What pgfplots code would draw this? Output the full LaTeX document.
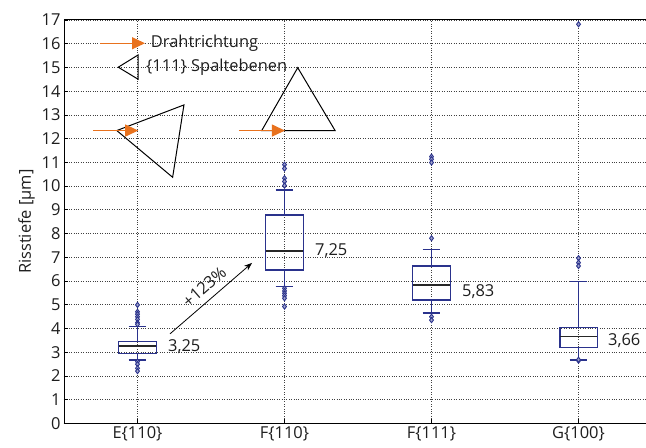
\documentclass[border=0pt]{standalone}
\usepackage{fontspec}
\setmainfont{Open Sans}
\usepackage{pgfplots}
\pgfplotsset{compat=1.18}
\usepgfplotslibrary{statistics}
\usetikzlibrary{arrows.meta}
\definecolor{navy}{RGB}{42,50,140}
\definecolor{orng}{RGB}{232,114,30}
\definecolor{txt}{RGB}{30,30,30}
\begin{document}
\begin{tikzpicture}[font=\fontsize{16.5}{19}\selectfont]
\begin{axis}[name=ax, scale only axis, width=582bp, height=403.3bp,
  xmin=0.5, xmax=4.459, ymin=0, ymax=17,
  axis x line*=bottom, axis y line*=left,
  xtick={1,2,3,4}, xticklabels={E\{110\},F\{110\},F\{111\},G\{100\}},
  ytick={0,1,...,17},
  tick align=inside, major tick length=4bp,
  grid=major, major grid style={dotted, black!75, line width=0.6pt},
  /pgf/number format/assume math mode=true,
  ylabel={Risstiefe [µm]},
  axis line style={line width=1pt, black},
  tick style={black, line width=0.6pt},
  ticklabel style={text=txt}, label style={text=txt},
  clip=false,
  boxplot/draw direction=y,
  boxplot/box extend=0.254, boxplot/whisker extend=0.12,
  boxplot/every box/.style={draw=navy, line width=1.3pt},
  boxplot/every whisker/.style={navy, line width=1.3pt},
  boxplot/every median/.style={black!85, line width=1.3pt},
]
\draw[line width=1pt] (rel axis cs:0,1) -- (rel axis cs:1,1);

\pgfplotsset{myb/.style={navy, line width=1.3pt, mark=diamond*, mark size=2.6bp,
  mark options={fill=navy!45, line width=0.9pt, solid}}}

\addplot[myb, boxplot prepared={draw position=1, median=3.26, lower quartile=2.93, upper quartile=3.44,
  lower whisker=2.67, upper whisker=4.07}]
  table[row sep=\\, y index=0] {y\\ 4.99\\ 4.70\\ 4.60\\ 4.49\\ 4.38\\ 4.24\\ 4.17\\ 2.60\\ 2.49\\ 2.32\\ 2.20\\};

\addplot[myb, boxplot prepared={draw position=2, median=7.26, lower quartile=6.46, upper quartile=8.78,
  lower whisker=5.76, upper whisker=9.84}]
  table[row sep=\\, y index=0] {y\\ 10.90\\ 10.74\\ 10.33\\ 10.19\\ 10.02\\ 5.69\\ 5.58\\ 5.48\\ 5.38\\ 5.27\\ 4.92\\};

\addplot[myb, boxplot prepared={draw position=3, median=5.83, lower quartile=5.20, upper quartile=6.63,
  lower whisker=4.65, upper whisker=7.33}]
  table[row sep=\\, y index=0] {y\\ 11.24\\ 11.13\\ 10.99\\ 7.80\\ 4.49\\ 4.35\\};

\addplot[myb, boxplot prepared={draw position=4, median=3.65, lower quartile=3.19, upper quartile=4.05,
  lower whisker=2.67, upper whisker=5.97}]
  table[row sep=\\, y index=0] {y\\ 16.82\\ 6.96\\ 6.77\\ 6.63\\ 2.64\\ 2.68\\};

% value labels
\node[anchor=west, inner sep=0, text=txt] at (axis cs:1.207,3.25) {3,25};
\node[anchor=west, inner sep=0, text=txt] at (axis cs:2.207,7.28) {7,25};
\node[anchor=west, inner sep=0, text=txt] at (axis cs:3.207,5.56) {5,83};
\node[anchor=west, inner sep=0, text=txt] at (axis cs:4.200,3.50) {3,66};

% increase arrow
\draw[-{Stealth[length=8bp,width=6bp]}, line width=0.8pt, black] (axis cs:1.221,3.77) -- (axis cs:1.779,6.76);
\node[rotate=41, inner sep=0, text=txt] at (axis cs:1.455,5.75) {+123\%};

% legend-like annotations
\draw[orng, line width=1.2pt, -{Triangle[length=13bp,width=12bp]}] (axis cs:0.745,16.02) -- (axis cs:1.051,16.02);
\node[anchor=west, inner sep=0, text=txt] at (axis cs:1.090,16.02) {Drahtrichtung};
\draw[black, line width=1pt] (axis cs:0.869,15.01) -- (axis cs:1.005,15.53) -- (axis cs:1.005,14.50) -- cycle;
\node[anchor=west, inner sep=0, text=txt] at (axis cs:1.058,15.03) {\{111\} Spaltebenen};

% crystal triangles
\draw[black, line width=1pt] (axis cs:0.859,12.34) -- (axis cs:1.316,13.42) -- (axis cs:1.239,10.37) -- cycle;
\draw[orng, line width=1.2pt, -{Triangle[length=13bp,width=12bp]}] (axis cs:0.699,12.34) -- (axis cs:1.005,12.34);
\draw[black, line width=1pt] (axis cs:1.845,12.34) -- (axis cs:2.090,14.99) -- (axis cs:2.344,12.34) -- cycle;
\draw[orng, line width=1.2pt, -{Triangle[length=13bp,width=12bp]}] (axis cs:1.690,12.34) -- (axis cs:2.003,12.34);
\end{axis}
\pgfresetboundingbox
\path ([xshift=-64bp,yshift=-24.7bp]ax.south west) rectangle ++(646bp,448bp);
\end{tikzpicture}
\end{document}
